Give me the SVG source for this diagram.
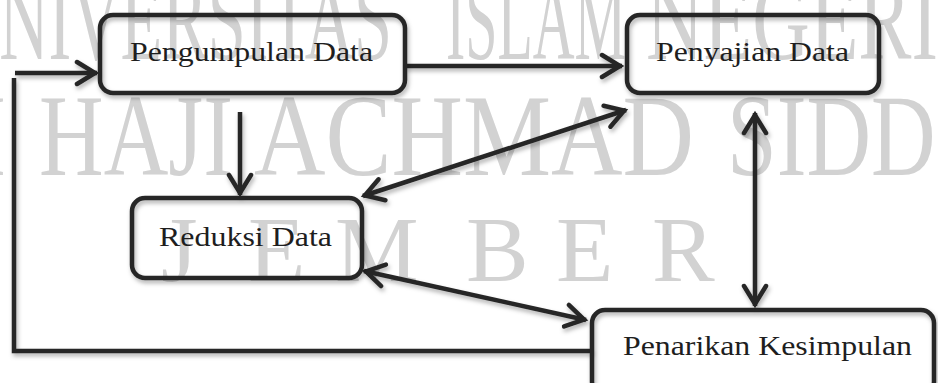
<svg xmlns="http://www.w3.org/2000/svg" width="938" height="383" viewBox="0 0 938 383">
<defs>
<style>
.wm{font-family:"Liberation Serif","Times New Roman",serif;fill:#d2d2d2}
.box{fill:none;stroke:#262626;stroke-width:4.5}
.lbl{font-family:"Liberation Serif","Times New Roman",serif;font-size:28px;fill:#1e1e1e}
.con{fill:none;stroke:#262626;stroke-width:4.5}
</style>
<marker id="ah" markerUnits="userSpaceOnUse" viewBox="-24 -14 28 28" refX="0" refY="0" markerWidth="28" markerHeight="28" orient="auto-start-reverse">
<path d="M-20 -11 L-2 0 L-20 11" fill="none" stroke="#262626" stroke-width="4.5" stroke-linecap="round" stroke-linejoin="miter"/>
</marker>
<filter id="sh" x="-10%" y="-10%" width="130%" height="140%">
<feDropShadow dx="1.5" dy="3" stdDeviation="2" flood-color="#000" flood-opacity="0.3"/>
</filter>
</defs>
<rect width="938" height="383" fill="#fff"/>
<g id="watermark">
<text class="wm" font-size="116" y="59"><tspan x="-50" textLength="442" lengthAdjust="spacingAndGlyphs">UNIVERSITAS</tspan></text>
<text class="wm" font-size="116" y="59" x="446" textLength="180" lengthAdjust="spacingAndGlyphs">ISLAM</text>
<text class="wm" font-size="116" y="59" x="646" textLength="292" lengthAdjust="spacingAndGlyphs">NEGERI</text>
<text class="wm" font-size="116" y="175" x="-183" textLength="189" lengthAdjust="spacingAndGlyphs">KIAI</text>
<text class="wm" font-size="116" y="175" x="39" textLength="194" lengthAdjust="spacingAndGlyphs">HAJI</text>
<text class="wm" font-size="116" y="175" x="254" textLength="440" lengthAdjust="spacingAndGlyphs">ACHMAD</text>
<text class="wm" font-size="116" y="175" x="727" textLength="303" lengthAdjust="spacingAndGlyphs">SIDDIQ</text>
<text class="wm" font-size="94" y="281" x="161 205 248 292 335 430 466 510 556 600 652">J E M B E R</text>
</g>
<g id="connectors" filter="url(#sh)">
<path class="con" d="M405 66 H622" marker-end="url(#ah)"/>
<path class="con" d="M240 112 V195" marker-end="url(#ah)"/>
<path class="con" d="M592 351 H14 V78"/>
<path class="con" d="M15 73 H97" marker-end="url(#ah)"/>
<path class="con" d="M363 196 L626 110" marker-start="url(#ah)" marker-end="url(#ah)"/>
<path class="con" d="M755 113 V306" marker-start="url(#ah)" marker-end="url(#ah)"/>
<path class="con" d="M364 271 L586 320" marker-start="url(#ah)" marker-end="url(#ah)"/>
</g>
<g id="pengumpulan">
<rect class="box" x="100" y="15" width="305" height="78" rx="13" filter="url(#sh)"/>
<text class="lbl" x="130" y="61" textLength="243" lengthAdjust="spacingAndGlyphs">Pengumpulan Data</text>
</g>
<g id="penyajian">
<rect class="box" x="627" y="15" width="252" height="78" rx="13" filter="url(#sh)"/>
<text class="lbl" x="656" y="61" textLength="193" lengthAdjust="spacingAndGlyphs">Penyajian Data</text>
</g>
<g id="reduksi">
<rect class="box" x="132" y="198" width="230" height="80" rx="13" filter="url(#sh)"/>
<text class="lbl" x="159" y="246" textLength="173" lengthAdjust="spacingAndGlyphs">Reduksi Data</text>
</g>
<g id="penarikan">
<rect class="box" x="592" y="310" width="342" height="85" rx="13" filter="url(#sh)"/>
<text class="lbl" x="623" y="355" textLength="289" lengthAdjust="spacingAndGlyphs">Penarikan Kesimpulan</text>
</g>
</svg>
